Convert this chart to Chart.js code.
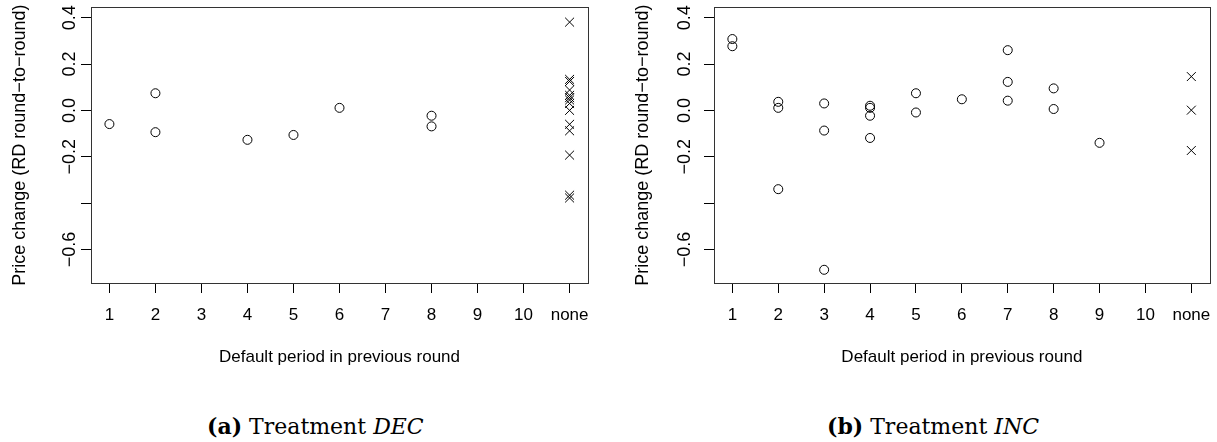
<!DOCTYPE html>
<html>
<head>
<meta charset="utf-8">
<script src="https://cdn.jsdelivr.net/npm/chart.js@4.4.0/dist/chart.umd.min.js"></script>
<style>
  body { margin: 0; background: #fff; width: 1217px; height: 442px; overflow: hidden; position: relative; }
  .panel { position: absolute; top: 0; }
  .cap { position: absolute; font-family: "DejaVu Serif", serif; font-size: 22px; line-height: 22px; color: #000; white-space: nowrap; }
</style>
</head>
<body>
<div class="panel" style="left:0"><canvas id="decChart" width="600" height="380"></canvas></div>
<div class="panel" style="left:600px"><canvas id="incChart" width="617" height="380"></canvas></div>
<div class="cap" style="left:207px;top:415px"><b>(a)</b> Treatment <i>DEC</i></div>
<div class="cap" style="left:827px;top:415px"><b>(b)</b> Treatment <i>INC</i></div>
<script>
const periodLabels = ['1', '2', '3', '4', '5', '6', '7', '8', '9', '10', 'none'];
const yTicks = [-0.6, -0.4, -0.2, 0, 0.2, 0.4];

// Treatment DEC
const decPeriod = [1, 2, 2, 4, 5, 6, 8, 8];
const decChange = [-0.059, 0.074, -0.094, -0.127, -0.106, 0.011, -0.023, -0.069];
const decNoneChange = [0.381, 0.134, 0.125, 0.088, 0.065, 0.055, 0.045, 0.03, 0.0, -0.06, -0.088, -0.193, -0.366, -0.378];

// Treatment INC
const incPeriod = [1, 1, 2, 2, 2, 3, 3, 3, 4, 4, 4, 4, 5, 5, 6, 7, 7, 7, 8, 8, 9];
const incChange = [0.308, 0.277, 0.037, 0.011, -0.340, 0.030, -0.087, -0.688, 0.02, 0.011, -0.023, -0.119,
  0.074, -0.009, 0.048, 0.26, 0.123, 0.042, 0.095, 0.006, -0.140];
const incNoneChange = [0.146, 0.001, -0.173];

const sans = 'Liberation Sans';

// plot frame like R's box()
const boxPlugin = {
  id: 'box',
  afterDraw(chart) {
    const a = chart.chartArea;
    const ctx = chart.ctx;
    ctx.save();
    ctx.strokeStyle = '#333';
    ctx.lineWidth = 1;
    ctx.strokeRect(Math.round(a.left) + 0.5, Math.round(a.top) + 0.5,
      Math.round(a.right - a.left), Math.round(a.bottom - a.top));
    ctx.restore();
  }
};

function fmt(v) {
  if (Math.abs(v + 0.4) < 1e-9) return '';
  const s = Math.abs(v).toFixed(1);
  return v < -1e-9 ? '\u2212' + s : s;
}

function makeChart(id, period, change, noneChange, padLeft, padRight, yTickPad) {
  const pts = period.map((p, i) => ({ x: p, y: change[i] }));
  const nonePts = noneChange.map(v => ({ x: periodLabels.length, y: v }));
  return new Chart(document.getElementById(id), {
    type: 'scatter',
    data: {
      datasets: [{
        data: pts,
        pointStyle: 'circle',
        radius: 4.5,
        backgroundColor: 'rgba(0,0,0,0)',
        borderColor: '#000',
        borderWidth: 1
      }, {
        data: nonePts,
        pointStyle: 'crossRot',
        radius: 6.3,
        borderColor: '#000',
        borderWidth: 1
      }]
    },
    options: {
      responsive: false,
      animation: false,
      devicePixelRatio: 1,
      layout: { padding: { left: padLeft, right: padRight, top: 4, bottom: 0 } },
      plugins: { legend: { display: false }, tooltip: { enabled: false } },
      scales: {
        x: {
          type: 'linear',
          min: 0.6,
          max: 11.4,
          afterBuildTicks: s => { s.ticks = periodLabels.map((_, i) => ({ value: i + 1 })); },
          afterFit: s => { s.height = 97; s.paddingLeft = 0; s.paddingRight = 0; },
          ticks: {
            autoSkip: false,
            maxRotation: 0,
            padding: 12,
            color: '#000',
            font: { family: sans, size: 17 },
            callback: v => periodLabels[Math.round(v) - 1]
          },
          grid: { drawOnChartArea: false, drawTicks: true, tickLength: 10, tickColor: '#000', tickWidth: 1 },
          border: { display: true, color: '#333' },
          title: {
            display: true,
            text: 'Default period in previous round',
            color: '#000',
            font: { family: sans, size: 17 },
            padding: { top: 0, bottom: 12 }
          }
        },
        y: {
          type: 'linear',
          min: -0.745,
          max: 0.445,
          afterBuildTicks: s => { s.ticks = yTicks.map(v => ({ value: v })); },
          afterFit: s => { s.width = 91; s.paddingTop = 0; s.paddingBottom = 0; },
          ticks: {
            minRotation: 90,
            maxRotation: 90,
            crossAlign: 'center',
            padding: yTickPad,
            color: '#000',
            font: { family: sans, size: 18 },
            callback: v => fmt(v)
          },
          grid: { drawOnChartArea: false, drawTicks: true, tickLength: 10, tickColor: '#000', tickWidth: 1 },
          border: { display: true, color: '#333' },
          title: {
            display: true,
            text: 'Price change (RD round\u2212to\u2212round)',
            color: '#000',
            font: { family: sans, size: 18 },
            padding: { top: 9, bottom: 0 }
          }
        }
      }
    },
    plugins: [boxPlugin]
  });
}

makeChart('decChart', decPeriod, decChange, decNoneChange, 0, 12, -7);
makeChart('incChart', incPeriod, incChange, incNoneChange, 23, 5, 1);
</script>
</body>
</html>
